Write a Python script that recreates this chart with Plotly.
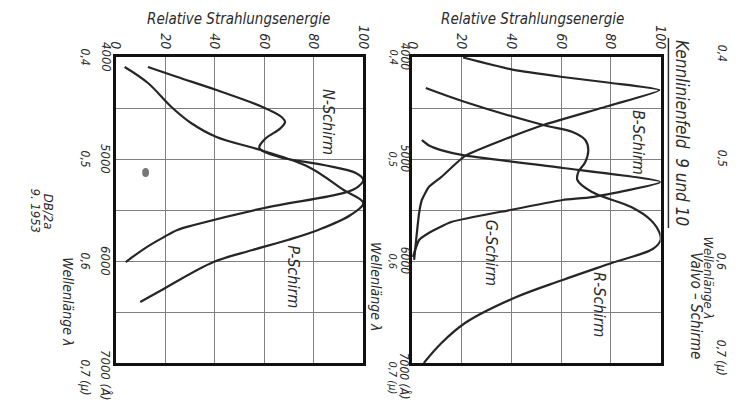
import plotly.graph_objects as go

# The page body has an 8 px margin, so the figure is drawn 8 px in from the
# window's top-left corner; all layout positions below are window pixels.
OX, OY = 8, 8
W, H = 732, 397

# ---------------- data ----------------
ENERGY_TICKS = [0, 20, 40, 60, 80, 100]
ENERGY_TICK_TEXT = ["0", "20", "40", "60", "80", "100"]
WAVE_GRID = [4000, 4500, 5000, 5500, 6000, 6500, 7000]
WAVE_TICKS = [4000, 5000, 6000, 7000]
WAVE_TEXT_A = ["4000", "5000", "6000", "7000 (Å)"]
WAVE_TEXT_MU = ["0,4", "0,5", "0,6", "0,7 (μ)"]

# Kennlinienfeld 9 (left panel)
N_LAMBDA = [4098, 4196, 4324, 4490, 4588, 4637, 4700, 4800, 4890, 4980, 5059, 5137, 5206,
            5270, 5330, 5480, 5647, 5696, 5765, 5873, 6010]
N_ENERGY = [13.0, 24.9, 40.7, 59.3, 67.0, 68.4, 66.5, 60.5, 58.0, 66.0, 84.0, 97.0, 100.0,
            98.0, 92.5, 60.0, 31.6, 24.9, 19.5, 11.9, 4.0]

P_LAMBDA = [4098, 4255, 4490, 4647, 4784, 4912, 5078, 5304, 5431, 5549, 5696, 5794, 5892,
            6010, 6284, 6402]
P_ENERGY = [3.6, 13.0, 22.5, 30.4, 40.7, 58.5, 77.9, 92.1, 100.0, 94.9, 81.8, 69.5, 55.3,
            39.5, 18.6, 9.9]

# Kennlinienfeld 10 (right panel)
B_LAMBDA = [4005, 4127, 4196, 4255, 4324, 4471, 4667, 4800, 4970, 5176, 5275, 5402, 5529,
            5794, 5990]
B_ENERGY = [20.5, 40.9, 60.6, 80.3, 99.5, 80.3, 52.8, 38.0, 21.3, 11.8, 6.7, 3.9, 2.8,
            1.6, 0.8]

G_LAMBDA = [4814, 4870, 4915, 4965, 5088, 5225, 5373, 5402, 5500, 5618, 5725, 5794, 5960]
G_ENERGY = [3.9, 7.0, 12.0, 21.0, 60.6, 100.0, 72.4, 60.6, 39.4, 15.7, 6.7, 2.8, 0.3]

R_LAMBDA = [4304, 4441, 4667, 4735, 4814, 4912, 5029, 5127, 5206, 5324, 5471, 5598, 5725,
            5794, 5880, 6020, 6186, 6363, 6608, 6804, 7000]
R_ENERGY = [5.5, 21.3, 52.8, 64.6, 69.7, 70.9, 69.7, 66.9, 66.5, 72.4, 88.2, 96.0, 99.6,
            100.0, 97.0, 80.3, 60.6, 41.0, 21.3, 11.8, 4.7]

# ---------------- style ----------------
FONT = "DejaVu Sans Condensed, Liberation Sans Narrow, Roboto, sans-serif"
TXT = "#2b2b2b"
GRID = "#808080"
CURVE = "#262626"


def px(x):
    return (x - OX) / W


def py(y):
    return 1 - (y - OY) / H


def fnt(size):
    return dict(family=FONT, size=size, color=TXT, style="italic")


fig = go.Figure()

curves = [
    (N_ENERGY, N_LAMBDA, "x", "y", 1.0),
    (P_ENERGY, P_LAMBDA, "x", "y", 1.0),
    (B_ENERGY, B_LAMBDA, "x2", "y2", 0.5),
    (G_ENERGY, G_LAMBDA, "x2", "y2", 0.5),
    (R_ENERGY, R_LAMBDA, "x2", "y2", 1.0),
]
for e, lam, xa, ya, sm in curves:
    fig.add_trace(go.Scatter(
        x=e, y=lam, xaxis=xa, yaxis=ya, mode="lines",
        line=dict(color=CURVE, width=2.2, shape="spline", smoothing=sm),
        hoverinfo="skip", showlegend=False))


def xax(domain, anchor):
    return dict(domain=domain, range=[0, 100], side="top", anchor=anchor,
                tickmode="array", tickvals=ENERGY_TICKS, ticktext=ENERGY_TICK_TEXT,
                tickangle=90, tickfont=fnt(14), ticks="",
                showgrid=True, gridcolor=GRID, gridwidth=1,
                showline=True, mirror=True, linecolor="#111", linewidth=2.5,
                zeroline=False, fixedrange=True)


def yax(domain, anchor):
    return dict(domain=domain, range=[7000, 4000], anchor=anchor,
                tickmode="array", tickvals=WAVE_GRID, showticklabels=False, ticks="",
                showgrid=True, gridcolor=GRID, gridwidth=1,
                showline=True, mirror=True, linecolor="#111", linewidth=2.5,
                zeroline=False, fixedrange=True)


ydom = [py(363), py(57)]
fig.update_layout(
    width=W, height=H, margin=dict(l=0, r=0, t=0, b=0),
    paper_bgcolor="white", plot_bgcolor="white", showlegend=False,
    xaxis=xax([px(110), px(363)], "y"),
    yaxis=yax(ydom, "x"),
    xaxis2=xax([px(413), px(667)], "y2"),
    yaxis2=yax(ydom, "x2"),
)

ann = []


def text(x, y, s, size, angle=90, **kw):
    ann.append(dict(x=px(x), y=py(y), xref="paper", yref="paper", text=s,
                    showarrow=False, textangle=angle, font=fnt(size),
                    xanchor="center", yanchor="middle", **kw))


# axis titles
text(235, 19, "Relative Strahlungsenergie", 15, angle=0)
text(536, 19, "Relative Strahlungsenergie", 15, angle=0)

# wavelength tick labels
for yref, xa, xm, sa, sm in [("y", 100, 79, 13, 12), ("y2", 406, 393, 12, 11)]:
    for i, wl in enumerate(WAVE_TICKS):
        last = i == len(WAVE_TICKS) - 1
        ann.append(dict(x=px(xa), xref="paper", y=wl, yref=yref, text=WAVE_TEXT_A[i],
                        showarrow=False, textangle=90, font=fnt(sa),
                        xanchor="center", yanchor="middle", yshift=-13 if last else 0))
        ann.append(dict(x=px(xm), xref="paper", y=wl, yref=yref, text=WAVE_TEXT_MU[i],
                        showarrow=False, textangle=90, font=fnt(sm),
                        xanchor="center", yanchor="middle", yshift=-15 if last else 0))

text(61, 302, "Wellenlänge λ", 14)
text(376, 287, "Wellenlänge λ", 14)

# curve labels
text(328, 122, "N-Schirm", 16)
text(292, 277, "P-Schirm", 16)
text(645, 142, "B-Schirm", 16)
text(495, 253, "G-Schirm", 16)
text(605, 305, "R-Schirm", 16)

# page texts
text(689, 133, "Kennlinienfeld  9 und 10", 17)
text(703, 306, "Valvo – Schirme", 15)
text(42, 212, "DB/2a", 13)
text(28, 211, "9. 1953", 13)

# neighbouring panel, cut at the page edge
text(730, 53, "0,4", 12)
text(730, 158, "0,5", 12)
text(729, 261, "0,6", 12)
text(729, 358, "0,7 (μ)", 12)
text(716, 278, "Wellenlänge λ", 13)

fig.update_layout(annotations=ann)

# underline of the heading and a scan blot
fig.add_shape(type="line", xref="paper", yref="paper",
              x0=px(675), x1=px(675), y0=py(38), y1=py(228),
              line=dict(color=TXT, width=1.5))
fig.add_shape(type="circle", xref="paper", yref="paper",
              x0=px(137), x1=px(144), y0=py(168), y1=py(177),
              fillcolor="#777", line=dict(width=0))

fig.write_html("out.html")
